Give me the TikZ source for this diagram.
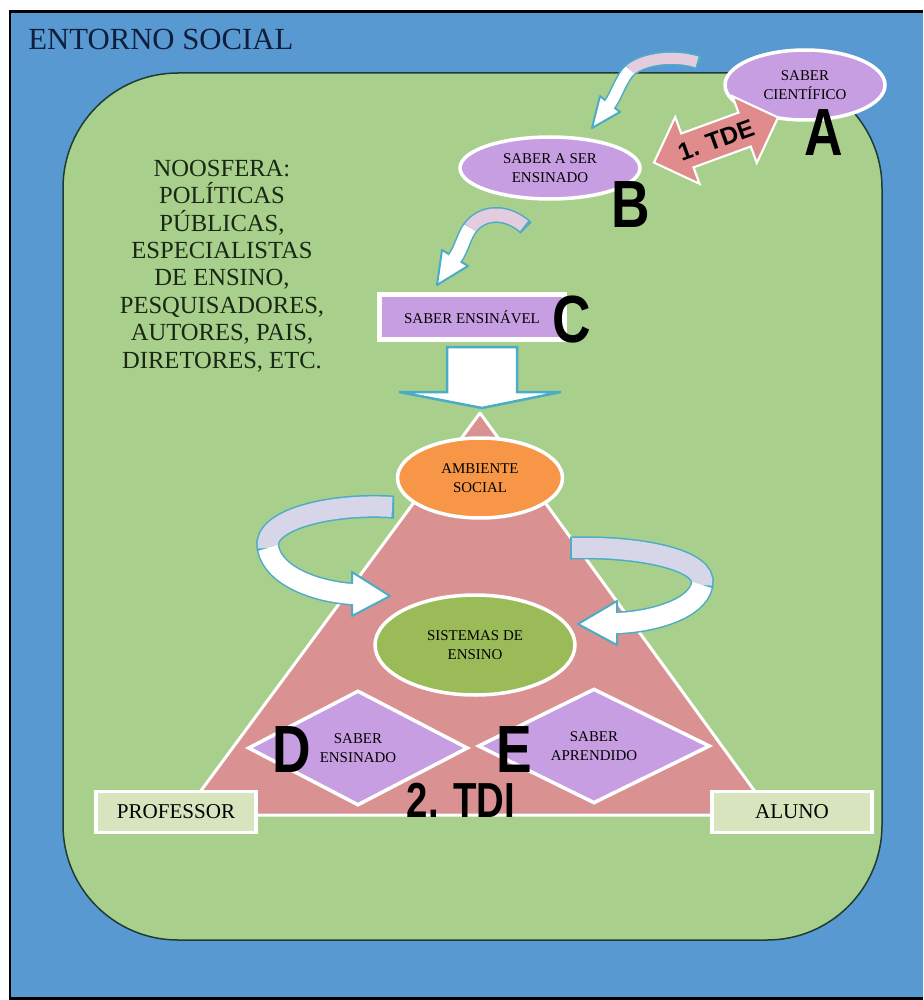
\documentclass[tikz,border=0pt]{standalone}
\usepackage{fontspec}
\setmainfont{Liberation Serif}
\newfontfamily\lettersans{Liberation Sans}
\usetikzlibrary{shapes.geometric, shapes.arrows, calc}

\definecolor{socialblue}{RGB}{88,153,210}
\definecolor{noogreen}{RGB}{168,207,140}
\definecolor{darkedge}{RGB}{30,60,50}
\definecolor{saberlilac}{RGB}{200,158,226}
\definecolor{trisalmon}{RGB}{217,146,145}
\definecolor{tdesalmon}{RGB}{224,140,140}
\definecolor{ambientorange}{RGB}{247,150,70}
\definecolor{sistgreen}{RGB}{155,187,89}
\definecolor{rolegreen}{RGB}{215,228,189}
\definecolor{bandblue}{RGB}{75,172,198}
\definecolor{bandgray}{RGB}{214,214,232}
\definecolor{bandpink}{RGB}{226,204,222}
\definecolor{inktext}{RGB}{25,40,20}
\definecolor{navytext}{RGB}{15,30,60}

\tikzset{
  saber/.style={ellipse, fill=saberlilac, draw=white, line width=2pt, inner sep=0pt,
    align=center, font=\fontsize{8.5}{10.5}\selectfont},
  saberdiamond/.style={diamond, fill=saberlilac, draw=white, line width=2pt, inner sep=0pt,
    align=center, font=\fontsize{8.5}{10.5}\selectfont},
  rolebox/.style={rectangle, fill=rolegreen, draw=white, line width=2pt,
    minimum width=3.2cm, minimum height=0.82cm, font=\fontsize{12}{14}\selectfont},
  bigletter/.style={inner sep=0pt, xscale=0.8, font=\lettersans\bfseries\fontsize{38}{38}\selectfont},
  tdearrow/.style={double arrow, fill=tdesalmon, draw=white, line width=1.2pt,
    double arrow head extend=0.35cm, inner xsep=0pt, inner ysep=0.17cm,
    font=\lettersans\bfseries\fontsize{14}{14}\selectfont},
  headtip/.style={fill=white, draw=bandblue, line width=0.04cm, line join=round}
}

\begin{document}
\begin{tikzpicture}[x=0.02cm, y=-0.02cm]
\useasboundingbox (0,0) rectangle (923,1000);
% entorno social
\fill[socialblue] (10,12) rectangle (923,998);
\draw[line width=0.06cm] (923,12) -- (10,12) -- (10,998) -- (923,998);
\node[anchor=base west, inner sep=0pt, text=navytext, font=\fontsize{17.5}{20}\selectfont] (entorno) at (28,50) {ENTORNO SOCIAL};
% noosfera
\filldraw[fill=noogreen, draw=darkedge, line width=0.03cm, rounded corners=2.3cm] (63,73) rectangle (882,940);
\node[text=inktext, align=center, font=\fontsize{14}{15.6}\selectfont] (noosfera) at (222,266)
  {NOOSFERA:\\POLÍTICAS\\PÚBLICAS,\\ESPECIALISTAS\\DE ENSINO,\\PESQUISADORES,\\AUTORES, PAIS,\\DIRETORES, ETC.};

% triangulo didatico
\filldraw[fill=trisalmon, draw=white, line width=0.06cm, line join=round] (480,413) -- (772,815) -- (183,815) -- cycle;

% setas curvas
\draw[bandblue, line width=0.28cm] (699,63) -- (697,62) .. controls (675,55) and (645,58) .. (630,70) .. controls (622,77) and (616,96) .. (610,104);
\filldraw[headtip] (600,96) -- (592,128) -- (620,112) -- cycle;
\draw[bandpink, line width=0.22cm] (697,62) .. controls (675,55) and (645,58) .. (630,70);
\draw[white, line width=0.22cm] (630,70) .. controls (622,77) and (616,96) .. (610,104) -- (608.5,106);

\draw[bandblue, line width=0.32cm] (526,228) -- (524,226) .. controls (505,210) and (482,212) .. (470,228) .. controls (464,236) and (461,250) .. (455,258);
\filldraw[headtip] (442,250) -- (437,285) -- (468,266) -- cycle;
\draw[bandpink, line width=0.26cm] (524,226) .. controls (505,210) and (482,212) .. (470,228);
\draw[white, line width=0.26cm] (470,228) .. controls (464,236) and (461,250) .. (455,258) -- (453.5,260.3);

\draw[bandblue, line width=0.46cm] (394,507) -- (392,507) .. controls (330,503) and (262,520) .. (268,548) .. controls (274,578) and (320,592) .. (352,594);
\filldraw[headtip] (352,572) -- (390,596) -- (352,616) -- cycle;
\draw[bandgray, line width=0.4cm] (392,507) .. controls (330,503) and (262,520) .. (268,548);
\draw[white, line width=0.4cm] (268,548) .. controls (274,578) and (320,592) .. (352,594) -- (356,594);

\draw[bandblue, line width=0.46cm] (570,548) -- (572,548) .. controls (640,546) and (708,560) .. (702,585) .. controls (697,610) and (650,622) .. (617,623);
\filldraw[headtip] (617,601) -- (578,624) -- (617,645) -- cycle;
\draw[bandgray, line width=0.4cm] (572,548) .. controls (640,546) and (708,560) .. (702,585);
\draw[white, line width=0.4cm] (702,585) .. controls (697,610) and (650,622) .. (617,623) -- (613,623);

% seta para o triangulo
\filldraw[fill=white, draw=bandblue, line width=0.05cm] (447,347) -- (517,347) -- (517,392) -- (561,392) -- (482,408) -- (399,392) -- (447,392) -- cycle;

% saberes
\node[saber, minimum width=3.2cm, minimum height=1.4cm] (cientifico) at (805,85) {SABER\\CIENTÍFICO};
\node[saber, minimum width=3.6cm, minimum height=1.24cm] (aserensinado) at (550,168) {SABER A SER\\ENSINADO};
\node[tdearrow, rotate=20, minimum height=2.64cm] (tde) at (716,140) {1. TDE};
\node[rectangle, fill=saberlilac, draw=white, line width=2.5pt, minimum width=3.7cm, minimum height=0.9cm,
  font=\fontsize{8.5}{10.5}\selectfont] (ensinavel) at (472,317) {SABER ENSINÁVEL};

\node[saber, fill=ambientorange, minimum width=3.3cm, minimum height=1.6cm] (ambiente) at (480,478) {AMBIENTE\\SOCIAL};
\node[saber, fill=sistgreen, minimum width=4cm, minimum height=2cm] (sistemas) at (475,645) {SISTEMAS DE\\ENSINO};
\node[saberdiamond, minimum width=4.4cm, minimum height=2.3cm] (ensinado) at (358,748) {SABER\\ENSINADO};
\node[saberdiamond, minimum width=4.64cm, minimum height=2.24cm] (aprendido) at (594,746) {SABER\\APRENDIDO};
\node[rolebox] (professor) at (176,812) {PROFESSOR};
\node[rolebox] (aluno) at (792,812) {ALUNO};

% letras
\node[bigletter] (letraA) at (824,133) {A};
\node[bigletter] (letraB) at (631,205) {B};
\node[bigletter] (letraC) at (572,320) {C};
\node[bigletter] (letraD) at (292,750) {D};
\node[bigletter] (letraE) at (514,750) {E};
\node[inner sep=0pt, xscale=0.78, font=\lettersans\bfseries\fontsize{28}{28}\selectfont] (tdi) at (461,800) {2. TDI};
\end{tikzpicture}
\end{document}
